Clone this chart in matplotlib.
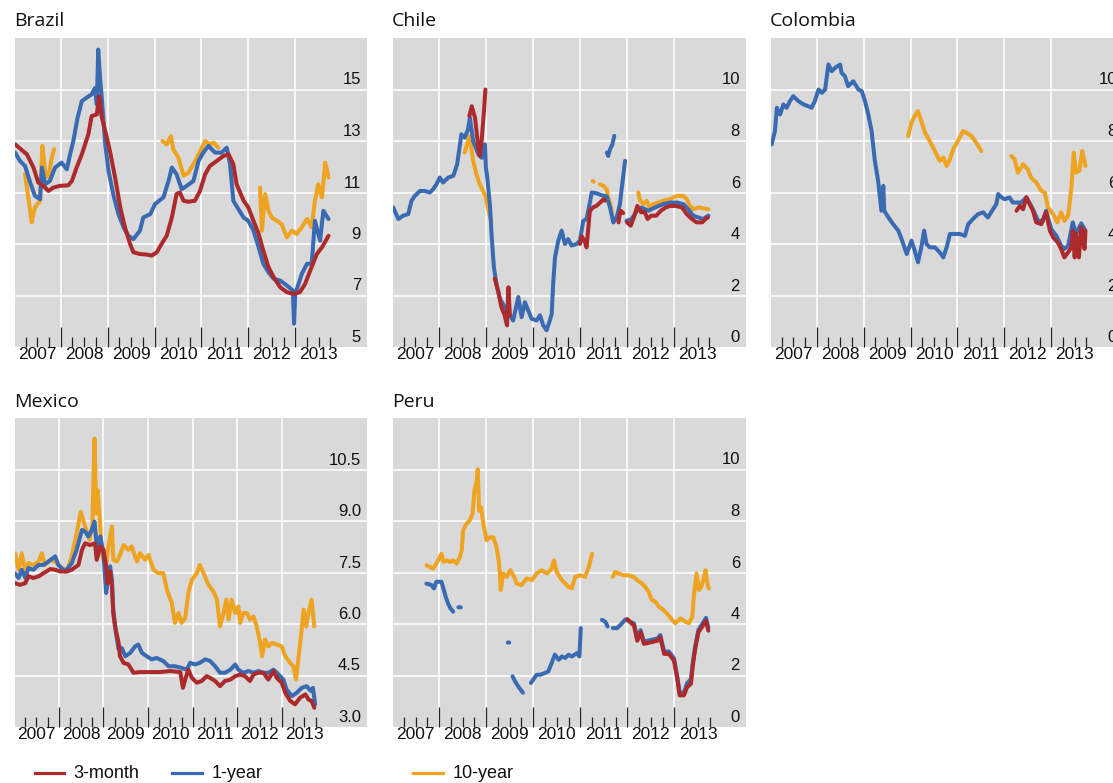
import numpy as np
import matplotlib
matplotlib.use("Agg")
import matplotlib.pyplot as plt
from matplotlib.lines import Line2D

# ---------------- data (decimal year, percent); None = gap ----------------
brazil_3m = [(2007.03,12.87),(2007.28,12.48),(2007.42,11.97),(2007.52,11.39),(2007.63,11.26),(2007.74,11.06),
    (2007.84,11.19),(2007.99,11.26),(2008.16,11.28),(2008.24,11.45),(2008.34,11.97),(2008.45,12.48),(2008.59,13.26),
    (2008.66,13.97),(2008.77,14.03),(2008.82,14.74),(2008.87,13.97),(2008.95,13.39),(2009.05,12.61),(2009.16,11.58),
    (2009.27,10.42),(2009.37,9.65),(2009.48,9.0),(2009.55,8.68),(2009.69,8.61),(2009.83,8.59),(2009.94,8.55),
    (2010.05,8.68),(2010.15,9.0),(2010.26,9.32),(2010.37,10.03),(2010.47,10.94),(2010.54,11.0),(2010.62,10.68),
    (2010.72,10.64),(2010.86,10.68),(2010.97,11.06),(2011.08,11.71),(2011.18,12.03),(2011.33,12.23),(2011.47,12.42),
    (2011.58,12.48),(2011.68,12.1),(2011.75,11.32),(2011.9,10.68),(2012.0,10.42),(2012.11,9.9),(2012.22,9.39),
    (2012.32,8.74),(2012.43,8.1),(2012.54,7.71),(2012.68,7.32),(2012.82,7.13),(2012.96,7.06),(2013.1,7.13),
    (2013.21,7.45),(2013.32,7.97),(2013.46,8.61),(2013.57,8.87),(2013.71,9.32)]
brazil_1y = [(2007.03,12.55),(2007.13,12.23),(2007.24,12.03),(2007.35,11.39),(2007.45,10.87),(2007.56,10.74),
    (2007.6,11.97),(2007.67,11.32),(2007.77,11.45),(2007.88,11.97),(2008.02,12.16),(2008.13,11.9),(2008.2,12.48),
    (2008.27,13.0),(2008.36,13.9),(2008.45,14.55),(2008.55,14.68),(2008.66,14.81),(2008.73,15.06),(2008.77,14.42),
    (2008.8,16.55),(2008.84,15.45),(2008.87,14.81),(2008.95,12.87),(2009.02,11.84),(2009.12,10.94),(2009.23,10.16),
    (2009.34,9.65),(2009.44,9.32),(2009.55,9.19),(2009.69,9.52),(2009.76,10.03),(2009.91,10.16),(2010.01,10.55),
    (2010.19,10.81),(2010.3,11.45),(2010.37,11.97),(2010.47,11.71),(2010.58,11.13),(2010.69,11.26),(2010.83,11.45),
    (2010.94,12.23),(2011.04,12.55),(2011.15,12.81),(2011.29,12.55),(2011.43,12.55),(2011.54,12.74),(2011.61,12.1),
    (2011.68,10.68),(2011.79,10.35),(2011.9,10.03),(2012.0,9.9),(2012.11,9.52),(2012.22,8.87),(2012.32,8.23),
    (2012.43,7.9),(2012.54,7.65),(2012.68,7.58),(2012.82,7.39),(2012.95,7.19),(2012.975,5.9),(2013.0,7.06),
    (2013.14,7.84),(2013.25,8.23),(2013.35,8.23),(2013.42,9.9),(2013.53,9.13),(2013.6,10.29),(2013.71,9.97)]
brazil_10y = [(2007.24,11.71),(2007.35,10.29),(2007.38,9.84),(2007.45,10.42),(2007.56,10.68),(2007.61,12.81),
    (2007.67,11.84),(2007.74,11.58),(2007.81,12.35),(2007.86,12.68), None,
    (2010.17,13.0),(2010.26,12.87),(2010.35,13.19),(2010.4,12.68),(2010.51,12.35),(2010.62,11.65),(2010.72,11.77),
    (2010.83,12.1),(2010.94,12.48),(2011.08,13.0),(2011.18,12.87),(2011.26,12.94),(2011.36,12.74), None,
    (2012.25,11.19),(2012.29,9.52),(2012.36,10.94),(2012.43,10.29),(2012.5,10.03),(2012.61,9.9),(2012.71,9.77),
    (2012.82,9.26),(2012.93,9.52),(2013.03,9.39),(2013.14,9.65),(2013.25,9.97),(2013.35,9.65),(2013.42,10.68),
    (2013.49,11.32),(2013.57,10.81),(2013.64,12.16),(2013.71,11.58)]

chile_3m = [(2008.65,8.97),(2008.7,9.35),(2008.77,8.9),(2008.84,7.74),(2008.87,7.42),(2008.91,8.0),(2008.96,9.16),
    (2008.99,10.0), None,
    (2009.19,2.65),(2009.26,2.19),(2009.33,1.55),(2009.4,1.23),(2009.45,0.84),(2009.48,2.32),(2009.51,1.23), None,
    (2011.0,4.0),(2011.04,4.3),(2011.1,4.1),(2011.14,3.87),(2011.18,4.65),(2011.21,5.29),(2011.28,5.42),
    (2011.35,5.48),(2011.43,5.61),(2011.5,5.74),(2011.53,5.68), None,
    (2011.82,4.84),(2011.86,5.3),(2011.92,5.2), None,
    (2012.0,4.84),(2012.08,4.71),(2012.17,5.16),(2012.22,5.48),(2012.3,5.23),(2012.37,5.25),(2012.44,4.97),
    (2012.51,5.1),(2012.62,5.1),(2012.72,5.29),(2012.82,5.42),(2012.92,5.48),(2013.03,5.48),(2013.17,5.42),
    (2013.27,5.16),(2013.38,4.97),(2013.48,4.84),(2013.6,4.84),(2013.67,4.97),(2013.72,5.03)]
chile_1y = [(2007.03,5.42),(2007.14,4.97),(2007.24,5.1),(2007.35,5.16),(2007.42,5.68),(2007.49,5.87),(2007.6,6.06),
    (2007.7,6.06),(2007.81,6.0),(2007.88,6.13),(2007.95,6.32),(2008.02,6.58),(2008.09,6.39),(2008.2,6.58),
    (2008.31,6.65),(2008.39,7.1),(2008.48,8.26),(2008.55,8.13),(2008.62,8.45),(2008.66,8.9),(2008.73,8.0),
    (2008.84,7.48),(2008.91,7.35),(2008.98,7.87),(2009.0,6.97),(2009.03,6.58),(2009.09,5.42),(2009.12,4.39),
    (2009.17,3.1),(2009.23,2.39),(2009.3,1.87),(2009.4,1.55),(2009.51,1.23),(2009.58,1.03),(2009.69,1.94),
    (2009.76,1.16),(2009.83,1.74),(2009.9,1.42),(2009.97,1.1),(2010.08,1.03),(2010.15,1.23),(2010.22,0.84),
    (2010.29,0.65),(2010.36,1.03),(2010.4,1.29),(2010.43,2.45),(2010.47,3.48),(2010.54,4.13),(2010.61,4.52),
    (2010.68,4.0),(2010.75,4.19),(2010.82,3.94),(2010.93,4.0),(2011.0,4.13),(2011.07,4.9),(2011.14,4.97),
    (2011.21,5.6),(2011.25,6.0),(2011.35,5.97),(2011.45,5.9),(2011.57,5.85),(2011.64,5.42),(2011.71,4.84),
    (2011.78,5.03),(2011.85,5.55),(2011.89,6.19),(2011.96,7.23), None,
    (2011.57,7.55),(2011.6,7.42),(2011.64,7.68),(2011.69,7.87),(2011.73,8.2), None,
    (2011.99,4.9),(2012.1,4.97),(2012.21,5.29),(2012.31,5.42),(2012.45,5.29),(2012.6,5.42),(2012.77,5.55),
    (2012.91,5.61),(2013.06,5.61),(2013.2,5.55),(2013.3,5.35),(2013.41,5.1),(2013.52,5.03),(2013.62,4.97),
    (2013.73,5.1)]
chile_10y = [(2008.55,7.55),(2008.65,8.19),(2008.73,7.23),(2008.8,6.71),(2008.87,6.32),(2008.94,6.06),(2009.0,5.81),
    (2009.05,5.35),(2009.12,4.84), None,
    (2011.27,6.45),(2011.29,6.42), None,
    (2011.42,6.32),(2011.5,6.26),(2011.57,6.13),(2011.6,5.81),(2011.64,5.61),(2011.67,5.29),(2011.71,4.84), None,
    (2012.24,6.0),(2012.28,5.68),(2012.35,5.55),(2012.42,5.68),(2012.49,5.35),(2012.56,5.55),(2012.67,5.61),
    (2012.77,5.68),(2012.91,5.74),(2013.06,5.87),(2013.2,5.87),(2013.27,5.74),(2013.34,5.48),(2013.41,5.35),
    (2013.52,5.42),(2013.62,5.39),(2013.73,5.35)]

colombia_3m = [(2012.26,5.29),(2012.33,5.48),(2012.4,5.35),(2012.47,5.81),(2012.54,5.55),(2012.61,5.29),(2012.68,4.84),
    (2012.79,4.77),(2012.89,5.23),(2012.97,4.52),(2013.04,4.26),(2013.14,4.06),(2013.21,3.81),(2013.28,3.48),
    (2013.36,3.68),(2013.43,3.87),(2013.46,4.52),(2013.5,3.48),(2013.53,4.39),(2013.59,3.48),(2013.64,4.65),
    (2013.71,3.81),(2013.73,4.52)]
colombia_1y = [(2007.04,7.87),(2007.11,8.39),(2007.15,9.29),(2007.22,9.03),(2007.29,9.42),(2007.36,9.29),(2007.43,9.55),
    (2007.5,9.74),(2007.61,9.55),(2007.72,9.42),(2007.82,9.35),(2007.89,9.29),(2007.96,9.55),(2008.04,10.0),
    (2008.11,9.87),(2008.18,10.0),(2008.25,10.97),(2008.32,10.71),(2008.39,10.84),(2008.5,10.97),(2008.53,10.65),
    (2008.6,10.52),(2008.67,10.13),(2008.78,10.32),(2008.89,10.0),(2008.96,9.94),(2009.03,9.55),(2009.1,9.03),
    (2009.17,8.39),(2009.24,7.23),(2009.31,6.45),(2009.38,5.29),(2009.42,6.26),(2009.44,5.29),(2009.53,5.03),
    (2009.63,4.77),(2009.74,4.52),(2009.81,4.19),(2009.92,3.61),(2010.02,4.13),(2010.09,3.74),(2010.16,3.29),
    (2010.23,3.87),(2010.29,4.52),(2010.34,4.0),(2010.41,3.87),(2010.52,3.87),(2010.62,3.68),(2010.7,3.48),
    (2010.77,3.87),(2010.84,4.39),(2010.94,4.39),(2011.05,4.39),(2011.16,4.32),(2011.23,4.77),(2011.33,4.97),
    (2011.44,5.16),(2011.55,5.23),(2011.65,5.03),(2011.76,5.35),(2011.83,5.55),(2011.87,5.94),(2011.94,5.81),
    (2012.01,5.74),(2012.11,5.81),(2012.18,5.61),(2012.26,5.61),(2012.36,5.61),(2012.47,5.81),(2012.61,5.35),
    (2012.72,4.9),(2012.82,4.9),(2012.89,5.29),(2013.0,4.58),(2013.11,4.32),(2013.21,3.94),(2013.28,3.81),
    (2013.36,3.94),(2013.46,4.84),(2013.53,4.39),(2013.64,4.8),(2013.71,4.58)]
colombia_10y = [(2009.95,8.19),(2010.02,8.71),(2010.09,8.97),(2010.16,9.16),(2010.23,8.77),(2010.31,8.32),(2010.41,8.0),
    (2010.52,7.61),(2010.62,7.23),(2010.7,7.35),(2010.77,7.03),(2010.84,7.29),(2010.91,7.68),(2011.01,8.0),
    (2011.12,8.39),(2011.19,8.32),(2011.3,8.19),(2011.4,7.94),(2011.51,7.61), None,
    (2012.15,7.42),(2012.22,7.29),(2012.29,6.77),(2012.4,7.1),(2012.5,6.9),(2012.57,6.58),(2012.68,6.39),
    (2012.79,6.06),(2012.86,6.0),(2012.93,5.42),(2013.04,5.16),(2013.13,4.84),(2013.21,5.23),(2013.28,4.9),
    (2013.36,5.1),(2013.43,6.19),(2013.48,7.55),(2013.53,6.77),(2013.6,6.84),(2013.66,7.61),(2013.73,7.03)]

mexico_3m = [(2007.02,7.19),(2007.13,7.14),(2007.25,7.19),(2007.32,7.39),(2007.43,7.34),(2007.55,7.39),(2007.66,7.48),
    (2007.81,7.6),(2007.92,7.58),(2008.03,7.53),(2008.18,7.53),(2008.29,7.58),(2008.44,7.72),(2008.52,8.16),
    (2008.59,8.35),(2008.7,8.3),(2008.81,8.35),(2008.85,7.87),(2008.93,8.26),(2009.0,8.16),(2009.06,7.68),
    (2009.09,7.19),(2009.15,7.53),(2009.19,7.09),(2009.22,6.32),(2009.26,5.93),(2009.34,5.45),(2009.37,5.06),
    (2009.45,4.87),(2009.56,4.82),(2009.63,4.67),(2009.67,4.58),(2009.82,4.6),(2010.05,4.6),(2010.27,4.6),
    (2010.49,4.63),(2010.72,4.6),(2010.78,4.14),(2010.83,4.38),(2010.9,4.67),(2010.98,4.43),(2011.09,4.29),
    (2011.2,4.34),(2011.31,4.48),(2011.39,4.43),(2011.5,4.34),(2011.61,4.19),(2011.72,4.34),(2011.84,4.38),
    (2011.95,4.48),(2012.06,4.53),(2012.17,4.48),(2012.28,4.34),(2012.36,4.53),(2012.47,4.58),(2012.58,4.58),
    (2012.69,4.38),(2012.81,4.63),(2012.88,4.43),(2012.99,4.29),(2013.07,4.0),(2013.18,3.76),(2013.29,3.66),
    (2013.4,3.85),(2013.52,3.95),(2013.59,3.8),(2013.66,3.76),(2013.72,3.56)]
mexico_1y = [(2007.02,7.48),(2007.1,7.34),(2007.17,7.58),(2007.25,7.34),(2007.32,7.63),(2007.43,7.58),(2007.55,7.72),
    (2007.66,7.72),(2007.77,7.82),(2007.92,7.97),(2007.99,7.72),(2008.14,7.53),(2008.29,7.77),(2008.4,8.16),
    (2008.52,8.74),(2008.59,8.69),(2008.66,8.55),(2008.74,8.74),(2008.8,8.98),(2008.85,8.26),(2008.93,8.55),
    (2009.0,8.06),(2009.06,6.9),(2009.11,7.34),(2009.15,7.68),(2009.19,7.29),(2009.22,6.42),(2009.28,5.74),
    (2009.34,5.26),(2009.41,5.3),(2009.49,5.06),(2009.6,5.16),(2009.71,5.35),(2009.78,5.4),(2009.86,5.16),
    (2009.97,5.06),(2010.08,4.97),(2010.19,5.01),(2010.34,4.92),(2010.46,4.77),(2010.6,4.77),(2010.75,4.72),
    (2010.87,4.67),(2010.94,4.87),(2011.05,4.82),(2011.16,4.87),(2011.28,4.97),(2011.39,4.92),(2011.5,4.77),
    (2011.61,4.58),(2011.72,4.58),(2011.84,4.67),(2011.95,4.82),(2012.02,4.67),(2012.13,4.58),(2012.25,4.63),
    (2012.36,4.58),(2012.47,4.63),(2012.58,4.58),(2012.69,4.58),(2012.81,4.67),(2012.92,4.53),(2013.03,4.38),
    (2013.1,4.09),(2013.22,3.9),(2013.33,4.0),(2013.44,4.14),(2013.55,4.19),(2013.64,4.05),(2013.69,4.14),
    (2013.74,3.66)]
mexico_10y = [(2007.02,8.06),(2007.1,7.58),(2007.17,8.06),(2007.25,7.53),(2007.32,7.77),(2007.43,7.72),(2007.55,7.82),
    (2007.62,8.06),(2007.69,7.72),(2007.81,7.87),(2007.92,7.82),(2008.03,7.68),(2008.18,7.53),(2008.29,7.97),
    (2008.4,8.64),(2008.49,9.27),(2008.59,8.84),(2008.69,8.45),(2008.75,8.84),(2008.8,11.4),(2008.84,9.22),
    (2008.87,9.9),(2008.93,8.84),(2008.96,8.06),(2009.06,7.68),(2009.11,8.26),(2009.19,8.84),(2009.22,7.87),
    (2009.3,7.82),(2009.37,8.01),(2009.45,8.3),(2009.56,8.16),(2009.63,8.26),(2009.75,7.82),(2009.82,8.06),
    (2009.93,7.87),(2010.01,8.01),(2010.12,7.58),(2010.23,7.48),(2010.34,7.48),(2010.42,7.0),(2010.53,6.61),
    (2010.6,6.03),(2010.68,6.32),(2010.75,6.03),(2010.83,6.18),(2010.9,6.9),(2010.98,7.29),(2011.09,7.48),
    (2011.16,7.72),(2011.24,7.48),(2011.35,7.14),(2011.46,6.95),(2011.54,6.71),(2011.61,5.93),(2011.69,6.32),
    (2011.75,6.71),(2011.8,6.13),(2011.87,6.71),(2011.95,6.32),(2012.02,6.51),(2012.06,6.03),(2012.13,6.32),
    (2012.21,6.32),(2012.28,6.13),(2012.36,6.22),(2012.43,5.93),(2012.51,5.45),(2012.55,5.06),(2012.62,5.55),
    (2012.69,5.35),(2012.77,5.45),(2012.88,5.4),(2012.99,5.35),(2013.07,5.06),(2013.18,4.87),(2013.25,4.77),
    (2013.31,4.38),(2013.37,5.06),(2013.43,5.74),(2013.48,6.42),(2013.54,5.93),(2013.59,6.32),(2013.66,6.71),
    (2013.72,5.93)]

peru_3m = [(2012.0,4.19),(2012.07,4.05),(2012.14,3.94),(2012.21,3.35),(2012.28,3.68),(2012.35,3.23),(2012.5,3.29),
    (2012.64,3.35),(2012.7,3.48),(2012.78,2.84),(2012.88,2.84),(2012.99,2.58),(2013.06,1.87),(2013.11,1.23),
    (2013.2,1.23),(2013.27,1.55),(2013.35,1.68),(2013.39,2.39),(2013.44,3.03),(2013.51,3.68),(2013.58,3.87),
    (2013.67,4.13),(2013.72,3.74)]
peru_1y = [(2007.73,5.57),(2007.84,5.51),(2007.89,5.38),(2007.94,5.64),(2008.05,5.64),(2008.1,5.32),(2008.14,5.06),
    (2008.19,4.8),(2008.24,4.61),(2008.3,4.48), None,
    (2008.41,4.65),(2008.46,4.65), None,
    (2009.46,3.28),(2009.49,3.28), None,
    (2009.56,1.97),(2009.61,1.78),(2009.68,1.58),(2009.78,1.33), None,
    (2009.95,1.71),(2010.0,1.84),(2010.07,2.03),(2010.15,2.03),(2010.25,2.1),(2010.32,2.16),(2010.39,2.48),
    (2010.46,2.81),(2010.54,2.61),(2010.61,2.74),(2010.68,2.68),(2010.75,2.81),(2010.82,2.74),(2010.93,2.87),
    (2010.98,2.74),(2011.01,3.84), None,
    (2011.46,4.16),(2011.53,4.09),(2011.58,3.9), None,
    (2011.69,3.84),(2011.78,3.84),(2011.85,3.96),(2011.96,4.18),(2012.03,4.12),(2012.14,4.02),(2012.21,3.45),
    (2012.28,3.76),(2012.35,3.32),(2012.5,3.38),(2012.64,3.44),(2012.7,3.57),(2012.78,2.93),(2012.88,2.93),
    (2012.99,2.67),(2013.06,1.96),(2013.11,1.33),(2013.2,1.34),(2013.27,1.7),(2013.35,1.86),(2013.39,2.5),
    (2013.44,3.12),(2013.51,3.78),(2013.58,3.97),(2013.67,4.24),(2013.72,3.85)]
peru_10y = [(2007.73,6.28),(2007.8,6.22),(2007.87,6.15),(2007.94,6.34),(2008.05,6.73),(2008.09,6.41),(2008.16,6.47),
    (2008.23,6.41),(2008.3,6.47),(2008.37,6.34),(2008.44,6.6),(2008.48,6.86),(2008.51,7.63),(2008.58,7.89),
    (2008.65,8.02),(2008.71,8.28),(2008.75,9.18),(2008.8,9.56),(2008.82,10.01),(2008.85,8.4),(2008.89,8.53),
    (2008.94,7.89),(2009.01,7.25),(2009.08,7.37),(2009.15,7.37),(2009.22,6.99),(2009.27,6.41),(2009.29,5.96),
    (2009.31,5.32),(2009.36,5.96),(2009.44,5.83),(2009.51,6.09),(2009.58,5.89),(2009.65,5.57),(2009.75,5.51),
    (2009.86,5.77),(2009.97,5.7),(2010.07,5.96),(2010.18,6.09),(2010.29,5.96),(2010.39,6.15),(2010.44,6.47),
    (2010.5,6.02),(2010.61,5.7),(2010.68,5.57),(2010.75,5.44),(2010.82,5.38),(2010.89,5.83),(2011.0,5.89),
    (2011.1,5.83),(2011.18,6.22),(2011.25,6.73), None,
    (2011.69,5.83),(2011.74,6.02),(2011.81,5.96),(2011.92,5.89),(2012.03,5.89),(2012.13,5.83),(2012.21,5.7),
    (2012.31,5.57),(2012.38,5.44),(2012.45,5.25),(2012.52,4.93),(2012.6,4.86),(2012.67,4.67),(2012.77,4.54),
    (2012.84,4.41),(2012.95,4.16),(2013.02,4.03),(2013.13,4.22),(2013.23,4.09),(2013.31,4.03),(2013.38,4.29),
    (2013.41,5.06),(2013.47,5.96),(2013.52,5.32),(2013.57,5.44),(2013.61,5.7),(2013.66,6.09),(2013.7,5.57),
    (2013.73,5.38)]

years = [2007, 2008, 2009, 2010, 2011, 2012, 2013]
series_names = ["3-month", "1-year", "10-year"]
ticks_0_10 = [0, 2, 4, 6, 8, 10]
ticks_brazil = [5, 7, 9, 11, 13, 15]
ticks_mexico = [3.0, 4.5, 6.0, 7.5, 9.0, 10.5]

# ---------------- style ----------------
RED, BLUE, ORANGE = "#AC2A2B", "#3A6BB2", "#EEA321"
BG = "#D9D9D9"
W, H = 1113, 783
TICKFONT = "Liberation Sans"
TITLEFONT = "Open Sans"


def split(pairs):
    t = np.array([np.nan if p is None else p[0] for p in pairs], dtype=float)
    v = np.array([np.nan if p is None else p[1] for p in pairs], dtype=float)
    return t, v


fig = plt.figure(figsize=(W / 100, H / 100), dpi=100)

panels = [
    ("Brazil", brazil_3m, brazil_1y, brazil_10y, (15, 38, 367, 347), (2007.026, 2014.53), (5, 17), ticks_brazil, "{:.0f}"),
    ("Chile", chile_3m, chile_1y, chile_10y, (393, 38, 746, 347), (2007.026, 2014.53), (0, 12), ticks_0_10, "{:.0f}"),
    ("Colombia", colombia_3m, colombia_1y, colombia_10y, (771, 38, 1123, 347), (2007.026, 2014.53), (0, 12), ticks_0_10, "{:.0f}"),
    ("Mexico", mexico_3m, mexico_1y, mexico_10y, (15, 418, 367, 727), (2007.02, 2014.9), (3, 12), ticks_mexico, "{:.1f}"),
    ("Peru", peru_3m, peru_1y, peru_10y, (393, 418, 746, 727), (2007.02, 2014.52), (0, 12), ticks_0_10, "{:.0f}"),
]

for title, s3m, s1y, s10y, (l, t, r, b), xl, yl, yt, fmt in panels:
    ax = fig.add_axes([l / W, 1 - b / H, (r - l) / W, (b - t) / H])
    ax.set_facecolor(BG)
    for sp in ax.spines.values():
        sp.set_visible(False)
    ax.set_xlim(*xl)
    ax.set_ylim(*yl)
    # white grid
    for yv in yt[1:]:
        ax.axhline(yv, color="white", lw=1.1, zorder=1)
    for yr in years[1:]:
        ax.axvline(yr, color="white", lw=1.1, zorder=1)
    # ticks
    ax.set_yticks([])
    ax.set_xticks(years[1:])
    ax.set_xticks([y + q for y in years for q in (0.25, 0.5, 0.75)], minor=True)
    ax.tick_params(axis="x", which="major", direction="in", length=14.5, width=0.9,
                   color="#222222", labelbottom=False)
    ax.tick_params(axis="x", which="minor", direction="in", length=7.2, width=0.9,
                   color="#222222", labelbottom=False)
    # year labels centred mid-year
    for yr in years:
        ax.annotate(str(yr), xy=(yr + 0.5, 0), xycoords=ax.get_xaxis_transform(),
                    xytext=(0, -12.3), textcoords="offset pixels", ha="center", va="baseline",
                    fontsize=12.5, family=TICKFONT, color="#111111", annotation_clip=False)
    # y labels inside on the right, sitting just above each grid line
    for yv in yt:
        ax.annotate(fmt.format(yv), xy=(1 - 6 / (r - l), yv), xycoords=ax.get_yaxis_transform(),
                    xytext=(0, 5), textcoords="offset pixels", ha="right", va="baseline",
                    fontsize=12, family=TICKFONT, color="#111111", annotation_clip=False)
    # series
    for pairs, col in ((s10y, ORANGE), (s1y, BLUE), (s3m, RED)):
        tt, vv = split(pairs)
        ax.plot(tt, vv, color=col, lw=2.9, solid_capstyle="round", solid_joinstyle="round", zorder=3)
    fig.text((l - 1) / W, 1 - (t - 11.5) / H, title, fontsize=14, family=TITLEFONT,
             ha="left", va="baseline", color="#111111")

# legend
legend_items = [(series_names[0], RED, 35, 64, 73), (series_names[1], BLUE, 172, 202, 212),
                (series_names[2], ORANGE, 413, 443, 453)]
for name, col, x0, x1, xt in legend_items:
    fig.add_artist(Line2D([x0 / W, x1 / W], [1 - 773 / H, 1 - 773 / H], color=col, lw=2.3,
                          transform=fig.transFigure))
    fig.text(xt / W, 1 - 778 / H, name, fontsize=13, family=TICKFONT, ha="left", va="baseline",
             color="#111111")

fig.savefig("out.png", dpi=100, facecolor="white")
